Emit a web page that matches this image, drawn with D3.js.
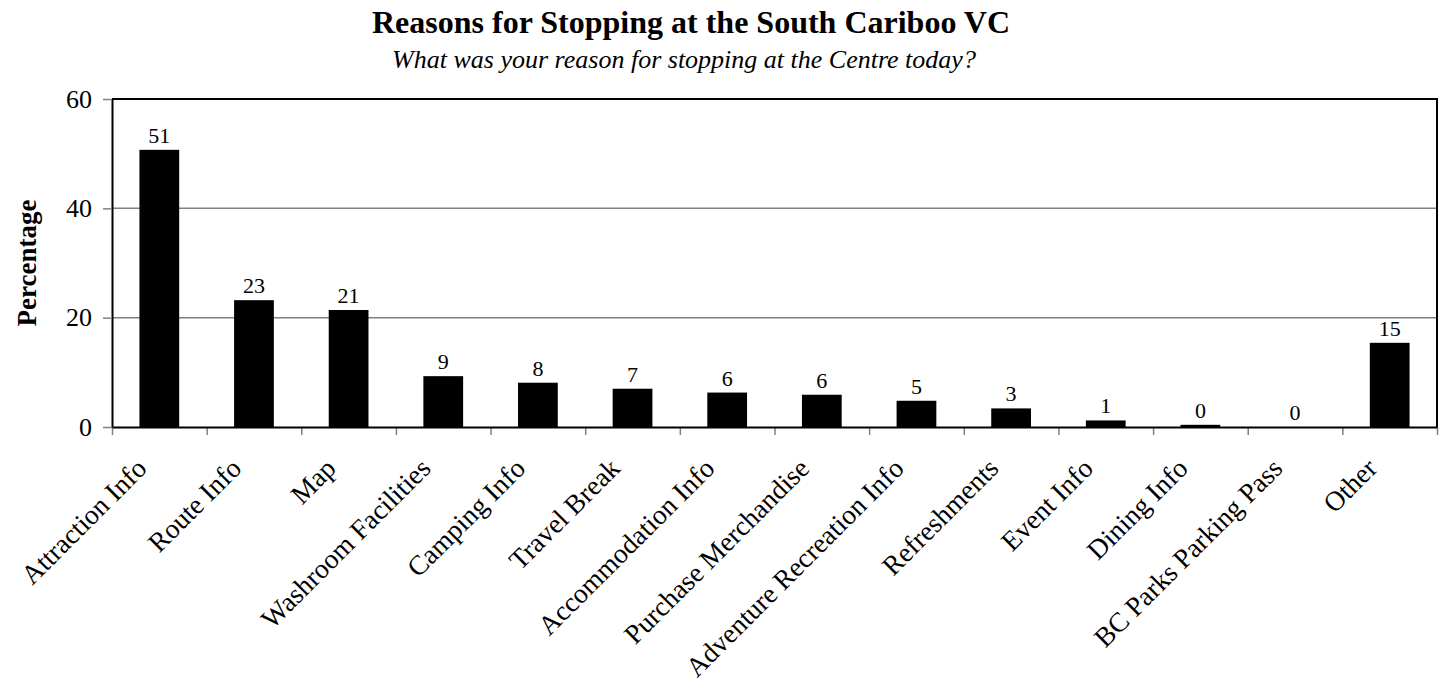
<!DOCTYPE html>
<html>
<head>
<meta charset="utf-8">
<script src="https://cdnjs.cloudflare.com/ajax/libs/d3/7.8.5/d3.min.js"></script>
<style>
  body { margin: 0; background: #fff; }
  svg { display: block; font-family: "Liberation Serif", "Times New Roman", serif; }
</style>
</head>
<body>
<svg></svg>
<script>
const categories = [
  "Attraction Info", "Route Info", "Map", "Washroom Facilities", "Camping Info",
  "Travel Break", "Accommodation Info", "Purchase Merchandise",
  "Adventure Recreation Info", "Refreshments", "Event Info", "Dining Info",
  "BC Parks Parking Pass", "Other"
];
const values = [50.7, 23.2, 21.4, 9.3, 8.1, 7.0, 6.3, 5.9, 4.8, 3.4, 1.2, 0.4, 0.0, 15.4];
const yTicks = [0, 20, 40, 60];

const width = 1446;
const height = 689;
const margin = { top: 99, right: 9, bottom: 262, left: 112 };

const svg = d3.select("svg").attr("width", width).attr("height", height);

let xScale; // bands for the bars
let xEdges; // category boundaries for the tick marks
let yScale;

let generateScales = () => {
  xScale = d3
    .scaleBand()
    .domain(categories)
    .range([margin.left, width - margin.right])
    .paddingInner(0.58)
    .paddingOuter(0.29);

  xEdges = d3
    .scaleLinear()
    .domain([0, categories.length])
    .range([margin.left, width - margin.right]);

  yScale = d3
    .scaleLinear()
    .domain([0, 60])
    .range([height - margin.bottom, margin.top]);
};

let generateGrid = () => {
  svg
    .append("g")
    .selectAll("line")
    .data(yTicks.filter((t) => t > 0 && t < 60))
    .enter()
    .append("line")
    .attr("x1", margin.left)
    .attr("x2", width - margin.right)
    .attr("y1", (d) => yScale(d))
    .attr("y2", (d) => yScale(d))
    .attr("stroke", "#808080")
    .attr("stroke-width", 1.5);
};

let generateBars = () => {
  svg
    .append("g")
    .selectAll("rect")
    .data(values)
    .enter()
    .append("rect")
    .attr("fill", "#000")
    .attr("x", (d, i) => xScale(categories[i]))
    .attr("width", xScale.bandwidth())
    .attr("y", (d) => yScale(d))
    .attr("height", (d) => yScale(0) - yScale(d));

  svg
    .append("g")
    .selectAll("text")
    .data(values)
    .enter()
    .append("text")
    .attr("x", (d, i) => xScale(categories[i]) + xScale.bandwidth() / 2)
    .attr("y", (d) => yScale(d) - 7)
    .attr("text-anchor", "middle")
    .style("font-size", "22px")
    .text((d) => d3.format(".0f")(d));
};

let generateAxes = () => {
  // plot frame: top and right edges
  svg
    .append("path")
    .attr("d", d3.line()([
      [margin.left, yScale(60)],
      [width - margin.right, yScale(60)],
      [width - margin.right, yScale(0)]
    ]))
    .attr("fill", "none")
    .attr("stroke", "#000")
    .attr("stroke-width", 2);

  let yAxis = svg
    .append("g")
    .attr("transform", "translate(" + margin.left + ",0)")
    .call(d3.axisLeft(yScale).tickValues(yTicks).tickSize(9).tickPadding(11).tickSizeOuter(0));
  yAxis.select(".domain").attr("stroke", "#000").attr("stroke-width", 2);
  yAxis.selectAll(".tick line").attr("stroke", "#808080").attr("stroke-width", 1.5);
  yAxis.selectAll(".tick text")
    .style("font-size", "26px")
    .style("font-family", "Liberation Serif, serif")
    .attr("fill", "#000");

  // boundary ticks between categories
  let xTicks = svg
    .append("g")
    .attr("transform", "translate(0," + yScale(0) + ")")
    .call(d3.axisBottom(xEdges).ticks(categories.length).tickSize(8).tickFormat("").tickSizeOuter(0));
  xTicks.select(".domain").remove();
  xTicks.selectAll(".tick line").attr("stroke", "#808080").attr("stroke-width", 1.5);

  let xAxis = svg
    .append("g")
    .attr("transform", "translate(0," + yScale(0) + ")")
    .call(d3.axisBottom(xScale).tickSize(0).tickSizeOuter(0));
  xAxis.select(".domain").attr("stroke", "#000").attr("stroke-width", 2);
  xAxis.selectAll(".tick text")
    .style("font-size", "27.5px")
    .style("font-family", "Liberation Serif, serif")
    .attr("fill", "#000")
    .attr("text-anchor", "end")
    .attr("y", 0)
    .attr("dy", 0)
    .attr("transform", "translate(-11,43) rotate(-45)");
};

let generateLabels = () => {
  svg
    .append("text")
    .attr("x", 691)
    .attr("y", 33)
    .attr("text-anchor", "middle")
    .style("font-size", "32px")
    .style("font-weight", "bold")
    .text("Reasons for Stopping at the South Cariboo VC");

  svg
    .append("text")
    .attr("x", 684)
    .attr("y", 68)
    .attr("text-anchor", "middle")
    .style("font-size", "26px")
    .style("font-style", "italic")
    .text("What was your reason for stopping at the Centre today?");

  svg
    .append("text")
    .attr("transform", "translate(36," + (yScale(30)) + ") rotate(-90)")
    .attr("text-anchor", "middle")
    .style("font-size", "27px")
    .style("font-weight", "bold")
    .text("Percentage");
};

generateScales();
generateGrid();
generateBars();
generateAxes();
generateLabels();
</script>
</body>
</html>
